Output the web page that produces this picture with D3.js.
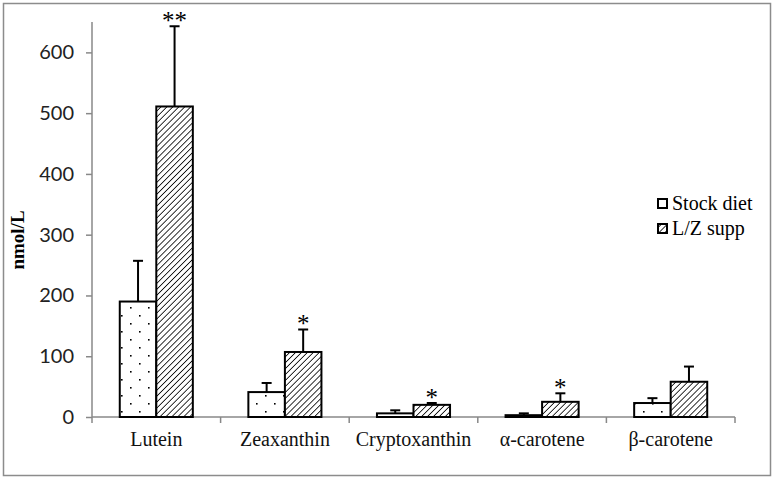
<!DOCTYPE html>
<html><head><meta charset="utf-8">
<script src="https://cdn.jsdelivr.net/npm/d3@7"></script>
<style>body{margin:0;background:#fff}svg{display:block}</style>
</head><body>
<svg id="c" width="775" height="480"></svg>
<script>
const categories = ["Lutein","Zeaxanthin","Cryptoxanthin","\u03b1-carotene","\u03b2-carotene"];
const seriesNames = ["Stock diet","L/Z supp"];
const stockMean = [190, 41, 6, 3, 23];
const stockErr  = [67, 15, 5, 3, 8];
const suppMean  = [511, 107, 20, 25, 58];
const suppErr   = [132, 37, 3, 14, 25];
const signif    = ["**","*","*","*",""];
const yTicks = [0,100,200,300,400,500,600];

const svg = d3.select("#c");
const defs = svg.append("defs");
const pd = defs.append("pattern").attr("id","dots").attr("patternUnits","userSpaceOnUse")
  .attr("width",18).attr("height",16).attr("x",3).attr("y",2);
pd.append("rect").attr("width",18).attr("height",16).attr("fill","#fff");
pd.append("rect").attr("x",1).attr("y",1).attr("width",1.6).attr("height",1.6).attr("fill","#000");
pd.append("rect").attr("x",10).attr("y",9).attr("width",1.6).attr("height",1.6).attr("fill","#000");
const ph = defs.append("pattern").attr("id","hatch").attr("patternUnits","userSpaceOnUse")
  .attr("width",4.2).attr("height",4.2).attr("patternTransform","rotate(45)");
ph.append("rect").attr("width",4.2).attr("height",4.2).attr("fill","#fff");
ph.append("line").attr("x1",0).attr("y1",0).attr("x2",0).attr("y2",4.2).attr("stroke","#000").attr("stroke-width",1.6);

// border
svg.append("rect").attr("x",3.5).attr("y",3.5).attr("width",767).attr("height",472)
  .attr("fill","none").attr("stroke","#8c8c8c").attr("stroke-width",1.5);

const x0 = d3.scaleBand().domain(categories).range([92,735]).paddingInner(0).paddingOuter(0);
const x1 = d3.scaleBand().domain(seriesNames).range([0,x0.bandwidth()]).paddingInner(0).paddingOuter(0.76);
const y = d3.scaleLinear().domain([0,650]).range([417,22]);

// y axis
const ya = svg.append("g").attr("transform","translate(92,0)")
  .call(d3.axisLeft(y).tickValues(yTicks).tickSize(6).tickPadding(12));
ya.select(".domain").attr("stroke","#888").attr("stroke-width",1.5).attr("d","M0,22V417");
ya.selectAll(".tick line").attr("stroke","#888").attr("stroke-width",1.5);
ya.selectAll(".tick text").attr("font-family","Lato, 'Open Sans', sans-serif").attr("font-size",20).attr("fill","#222");

// x axis
const xa = svg.append("g").attr("transform","translate(0,417)")
  .call(d3.axisBottom(x0).tickSize(0).tickPadding(15));
xa.select(".domain").attr("stroke","#888").attr("stroke-width",1.5).attr("d","M92,0H735");
xa.selectAll(".tick text").attr("font-family","'Liberation Serif', 'Times New Roman', serif").attr("font-size",20).attr("fill","#111");
const bounds = d3.range(categories.length+1).map(i => 92 + i*x0.step());
svg.append("g").selectAll("line").data(bounds).join("line")
  .attr("x1",d=>d).attr("x2",d=>d).attr("y1",417).attr("y2",423)
  .attr("stroke","#888").attr("stroke-width",1.5);

const rows = [];
categories.forEach((c,i)=>{
  rows.push({c, s:seriesNames[0], v:stockMean[i], e:stockErr[i], fill:"url(#dots)"});
  rows.push({c, s:seriesNames[1], v:suppMean[i], e:suppErr[i], fill:"url(#hatch)", sig:signif[i]});
});
const g = svg.append("g");
// error bars
rows.forEach(r=>{
  const cx = x0(r.c)+x1(r.s)+x1.bandwidth()/2;
  g.append("line").attr("x1",cx).attr("x2",cx).attr("y1",y(r.v)).attr("y2",y(r.v+r.e)).attr("stroke","#000").attr("stroke-width",2);
  g.append("line").attr("x1",cx-5).attr("x2",cx+5).attr("y1",y(r.v+r.e)).attr("y2",y(r.v+r.e)).attr("stroke","#000").attr("stroke-width",2);
  if(r.sig){
    g.append("text").attr("x",cx).attr("y",y(r.v+r.e)+3).attr("text-anchor","middle")
      .attr("font-family","'Liberation Serif', serif").attr("font-size",25).text(r.sig);
  }
});
g.selectAll("rect.bar").data(rows).join("rect").attr("class","bar")
  .attr("x",d=>x0(d.c)+x1(d.s)).attr("width",x1.bandwidth())
  .attr("y",d=>y(d.v)).attr("height",d=>y(0)-y(d.v))
  .attr("fill",d=>d.fill).attr("stroke","#000").attr("stroke-width",2);

// y label
svg.append("text").attr("transform","translate(24,240) rotate(-90)").attr("text-anchor","middle")
  .attr("font-family","'Liberation Serif', serif").attr("font-weight","bold").attr("font-size",19).text("nmol/L");

// legend
const leg = svg.append("g");
seriesNames.forEach((s,i)=>{
  const yy = 198 + i*25;
  leg.append("rect").attr("x",658).attr("y",yy+1).attr("width",9).attr("height",9)
    .attr("fill", i===0 ? "#fff" : "url(#hatch)").attr("stroke","#000").attr("stroke-width",2);
  leg.append("text").attr("x",672).attr("y",yy+12).attr("font-family","'Liberation Serif', serif")
    .attr("font-size",20).text(s);
});
</script>
</body></html>
